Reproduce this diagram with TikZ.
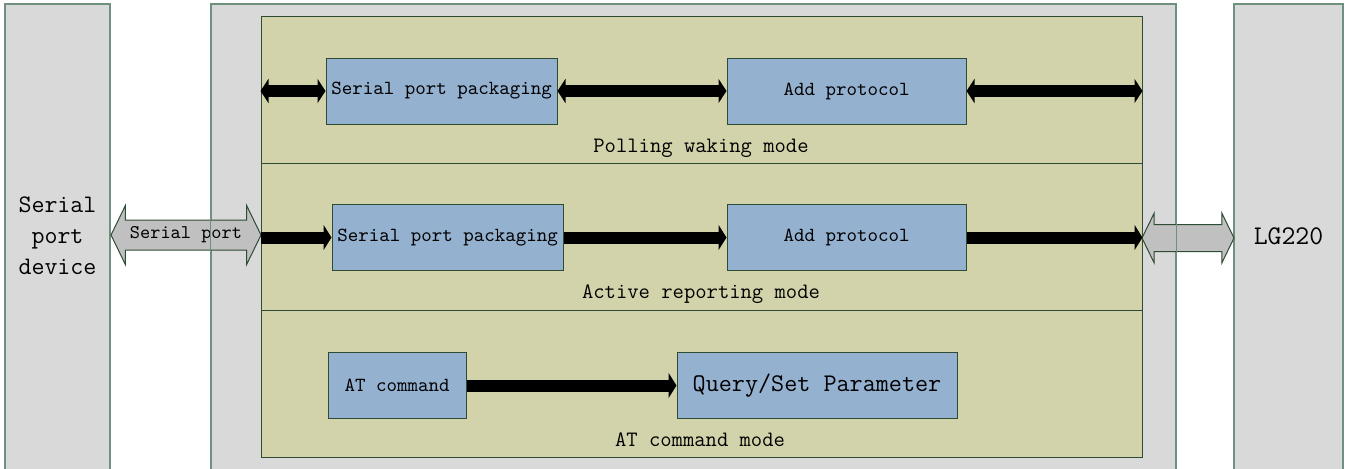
\documentclass[tikz,border=0pt]{standalone}
\usetikzlibrary{arrows.meta,shapes.arrows}
\definecolor{panelgray}{HTML}{D9D9D9}
\definecolor{panelline}{HTML}{6F8F7F}
\definecolor{olivefill}{HTML}{D3D3AB}
\definecolor{oliveline}{HTML}{2E4B33}
\definecolor{boxblue}{HTML}{95B1D0}
\definecolor{arrowgray}{HTML}{C0C0C0}
\begin{document}
\begin{tikzpicture}[x=0.5pt,y=-0.5pt,
	panel/.style={draw=panelline, fill=panelgray, line width=0.6pt, inner sep=0pt, minimum height=238pt},
	moderow/.style={draw=oliveline, fill=olivefill, line width=0.5pt, inner sep=0pt, minimum width=440.5pt, minimum height=73.5pt},
	blk/.style={draw=oliveline, fill=boxblue, line width=0.5pt, inner sep=0pt, minimum height=33pt, font=\ttfamily\fontsize{10}{12}\selectfont},
	modename/.style={font=\ttfamily\fontsize{11}{13}\selectfont},
	bigname/.style={font=\ttfamily\fontsize{12.6}{15.5}\selectfont, align=center},
	bus/.style={line width=6pt, -{Triangle[length=4pt,width=12.5pt]}},
	bibus/.style={line width=6pt, {Triangle[length=4pt,width=12pt]}-{Triangle[length=4pt,width=12pt]}},
	hollow/.style={double arrow, draw=oliveline, fill=arrowgray, line width=0.5pt, inner xsep=0pt, double arrow tip angle=128}]
		\clip (0,0) rectangle (1347,468);
		\node[panel, minimum width=52.5pt] (dev) at (57.5,242) { };
		\node[panel, minimum width=482.5pt] (mid) at (693.5,242) { };
		\node[panel, minimum width=54.5pt] (lg) at (1288.5,242) { };
		\node[bigname] (devtxt) at (57.5,236) {Serial\\port\\device};
		\node[bigname, font=\ttfamily\fontsize{13.5}{15}\selectfont] (lgtxt) at (1288.5,236) {LG220};
		\node[moderow] (pollrow) at (701.5,89.5) { };
		\node[moderow] (actrow) at (701.5,236.5) { };
		\node[moderow] (atrow) at (701.5,383.5) { };
		\node[modename] (polltxt) at (701,148) {Polling waking mode};
		\node[modename] (acttxt) at (701,294) {Active reporting mode};
		\node[modename] (attxt) at (700,440) {AT command mode};
		\node[blk, minimum width=115.5pt] (spp1) at (441.5,91) {Serial port packaging};
		\node[blk, minimum width=119.5pt] (add1) at (846.5,91) {Add protocol};
		\node[blk, minimum width=115.5pt] (spp2) at (447.5,237.5) {Serial port packaging};
		\node[blk, minimum width=119.5pt] (add2) at (846.5,237.5) {Add protocol};
		\node[blk, minimum width=69pt] (atc) at (397,385.5) {AT command};
		\node[blk, minimum width=140pt, font=\ttfamily\fontsize{12.7}{14}\selectfont] (qsp) at (817,385.5) {Query/Set Parameter};
		\node[hollow, minimum height=75pt, text height=6pt, text depth=2.2pt, inner ysep=3.15pt, double arrow head extend=7.25pt, font=\ttfamily\fontsize{9.7}{11}\selectfont] (serialport) at (186,235) {Serial port};
		\node[hollow, minimum height=46pt, text height=0pt, text depth=0pt, inner ysep=6.5pt, double arrow head extend=5.75pt] (lglink) at (1188,238) {};
		\draw[panelline, line width=0.6pt] (mid.north west) rectangle (mid.south east);
		\draw[bibus] (pollrow.west |- spp1) -- (spp1.west);
		\draw[bibus] (spp1.east) -- (add1.west);
		\draw[bibus] (add1.east) -- (pollrow.east |- add1);
		\draw[bus] (actrow.west |- spp2) -- (spp2.west);
		\draw[bus] (spp2.east) -- (add2.west);
		\draw[bus] (add2.east) -- (actrow.east |- add2);
		\draw[bus] (atc) -- (qsp);
\end{tikzpicture}
\end{document}
